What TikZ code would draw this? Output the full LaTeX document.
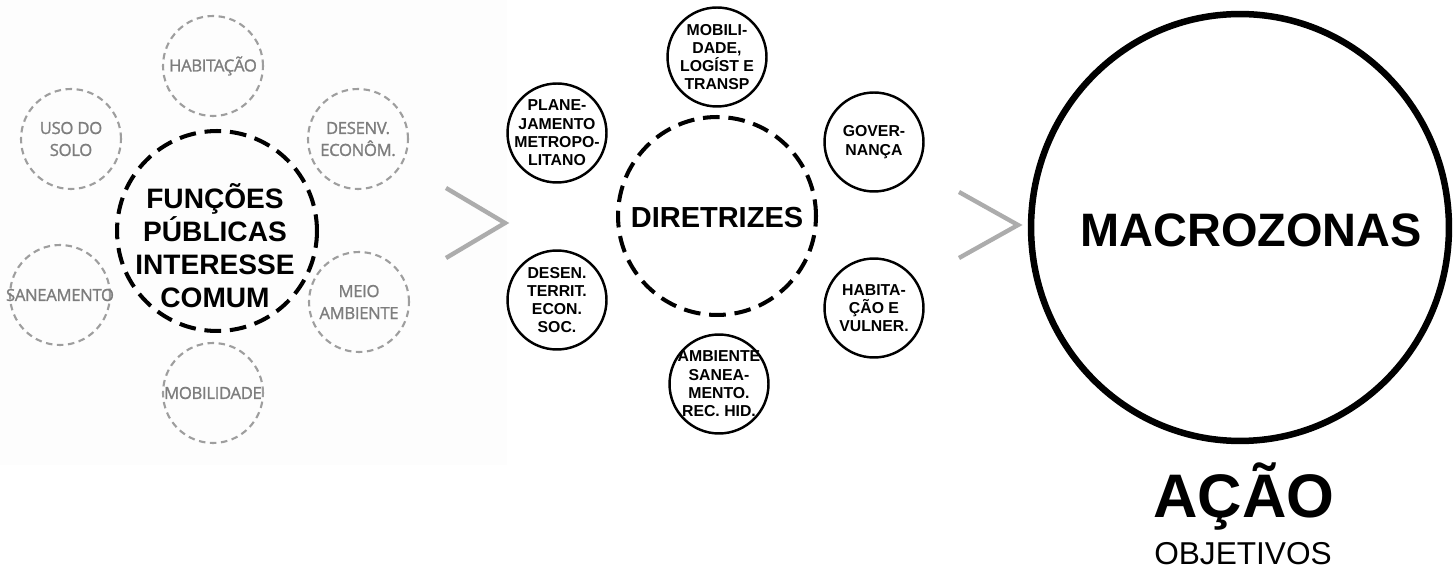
\documentclass[tikz,border=0pt]{standalone}
\usepackage{fontspec}
\setmainfont{Liberation Sans}
\newfontfamily\cinzafont[FakeBold=1.2, LetterSpace=-2]{Open Sans}
\usetikzlibrary{shapes.geometric}
\definecolor{cinza}{RGB}{125,125,125}
\definecolor{cinzaclaro}{RGB}{158,158,158}
\definecolor{cinzaseta}{RGB}{172,172,172}
\definecolor{fundo}{RGB}{253,253,253}

\begin{document}
\begin{tikzpicture}[x=0.02cm, y=-0.02cm,
        centro/.style = {circle, draw, line width=2.3pt, dash pattern=on 9.5pt off 5pt, minimum size=4cm, inner sep=0pt},
        funcao/.style = {circle, draw=cinzaclaro, line width=1.2pt, dash pattern=on 3.7pt off 2.6pt, minimum size=2cm, inner sep=0pt},
        diretriz/.style = {circle, draw, line width=1.4pt, minimum size=1.98cm, inner sep=0pt},
        txtcinza/.style = {font=\cinzafont\fontsize{9.5pt}{12.5pt}\selectfont, text=cinza, align=center, inner sep=0pt},
        txtdir/.style = {font=\bfseries\fontsize{9pt}{10.4pt}\selectfont, align=center, inner sep=0pt},
        chevron/.style = {draw=cinzaseta, line width=2.5pt}]
    \useasboundingbox (0,0) rectangle (1453,570);
    \fill[fundo] (0,0) rectangle (507,465);

    % Funcoes publicas de interesse comum
    \node[centro] (fpic) at (217,231) {};
    \node[font=\bfseries\fontsize{16pt}{18.8pt}\selectfont, align=center, inner sep=0pt] (fpictxt) at (215,246) {FUNÇÕES\\PÚBLICAS\\INTERESSE\\COMUM};

    \node[funcao] (hab) at (213,66) {};
    \node[txtcinza] (habtxt) at (hab) {HABITAÇÃO};
    \node[funcao] (uso) at (71,139) {};
    \node[txtcinza] (usotxt) at (uso) {USO DO\\SOLO};
    \node[funcao] (eco) at (358,139) {};
    \node[txtcinza] (ecotxt) at (eco) {DESENV.\\ECONÔM.};
    \node[funcao] (san) at (60,295) {};
    \node[txtcinza] (santxt) at (san) {SANEAMENTO};
    \node[funcao] (mei) at (359,302) {};
    \node[txtcinza] (meitxt) at (mei) {MEIO\\AMBIENTE};
    \node[funcao] (mob) at (213,393) {};
    \node[txtcinza] (mobtxt) at (mob) {MOBILIDADE};

    % Diretrizes
    \draw[chevron] (446,188) -- (505,223) -- (446,258);
    \node[centro, minimum size=3.96cm] (dir) at (717,216) {};
    \node[font=\bfseries\fontsize{16.5pt}{19pt}\selectfont, anchor=base] (dirtxt) at (717,228) {DIRETRIZES};

    \node[diretriz] (mlt) at (717,57) {};
    \node[txtdir] (mlttxt) at (mlt) {MOBILI-\\DADE,\\LOGÍST E\\TRANSP};
    \node[diretriz] (plan) at (557,133) {};
    \node[txtdir] (plantxt) at (plan) {PLANE-\\JAMENTO\\METROPO-\\LITANO};
    \node[diretriz] (gov) at (874,142) {};
    \node[txtdir] (govtxt) at (gov) {GOVER-\\NANÇA};
    \node[diretriz] (dtes) at (557,300) {};
    \node[txtdir] (dtestxt) at (dtes) {DESEN.\\TERRIT.\\ECON.\\SOC.};
    \node[diretriz] (hvul) at (874,308) {};
    \node[txtdir] (hvultxt) at (hvul) {HABITA-\\ÇÃO E\\VULNER.};
    \node[diretriz] (asr) at (719,384) {};
    \node[txtdir] (asrtxt) at (asr) {AMBIENTE\\SANEA-\\MENTO.\\REC. HID.};

    % Macrozonas
    \draw[chevron] (959,192) -- (1018,225) -- (959,258);
    \node[ellipse, draw, line width=3.7pt, minimum width=8.36cm, minimum height=8.54cm, inner sep=0pt] (macro) at (1240,227.5) {};
    \node[font=\bfseries\fontsize{26.7pt}{30pt}\selectfont, anchor=base] (macrotxt) at (1251,247) {MACROZONAS};
    \node[font=\bfseries\fontsize{35pt}{40pt}\selectfont, anchor=base] (acao) at (1244,518) {AÇÃO};
    \node[font=\fontsize{18pt}{21pt}\selectfont, anchor=base, inner sep=0pt] (obj) at (1243,564) {OBJETIVOS};
\end{tikzpicture}
\end{document}
